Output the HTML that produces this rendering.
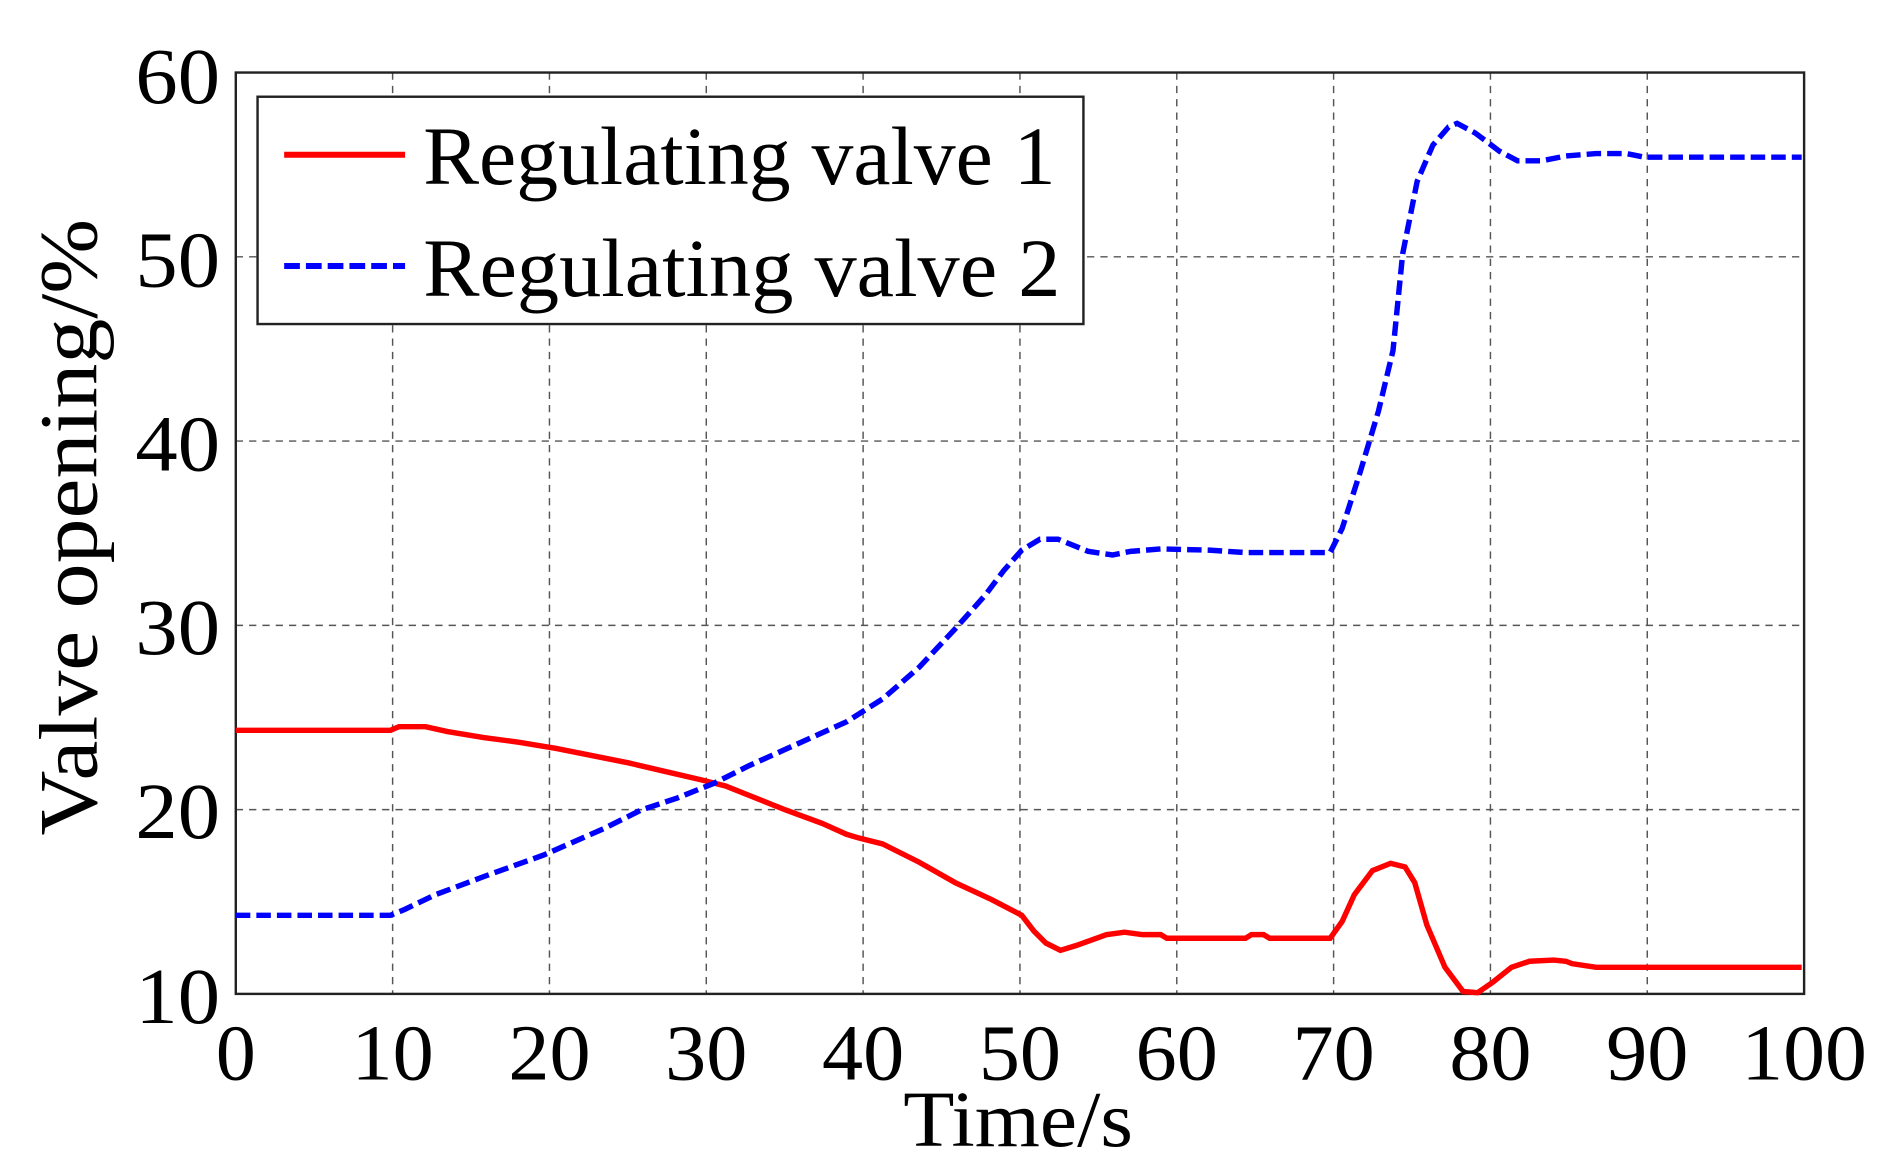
<!DOCTYPE html>
<html><head><meta charset="utf-8"><style>html,body{margin:0;padding:0;background:#fff}svg{display:block}</style></head>
<body>
<svg width="1896" height="1172" viewBox="0 0 1568 969.3" preserveAspectRatio="none" xmlns="http://www.w3.org/2000/svg" font-family="'Liberation Serif', serif">
<rect width="1568" height="970" fill="#fff"/>
<g stroke="#555" stroke-width="1.2" stroke-dasharray="6,5">
<line x1="324.7" y1="60" x2="324.7" y2="822"/><line x1="454.4" y1="60" x2="454.4" y2="822"/><line x1="584.1" y1="60" x2="584.1" y2="822"/><line x1="713.8" y1="60" x2="713.8" y2="822"/><line x1="843.5" y1="60" x2="843.5" y2="822"/><line x1="973.2" y1="60" x2="973.2" y2="822"/><line x1="1102.9" y1="60" x2="1102.9" y2="822"/><line x1="1232.6" y1="60" x2="1232.6" y2="822"/><line x1="1362.3" y1="60" x2="1362.3" y2="822"/>
<line x1="195" y1="212.4" x2="1492" y2="212.4"/><line x1="195" y1="364.8" x2="1492" y2="364.8"/><line x1="195" y1="517.2" x2="1492" y2="517.2"/><line x1="195" y1="669.6" x2="1492" y2="669.6"/>
</g>
<rect x="195" y="60" width="1297" height="762" fill="none" stroke="#222" stroke-width="2"/>
<polyline fill="none" stroke="#ff0000" stroke-width="4.5" points="195,604 323,604 330,601 352,601 370,605 400,610 430,614 460,619 490,625 520,631 550,638 580,645 600,650 620,658 650,670 680,681 700,690 710,693 730,698 760,713 790,730 820,744 845,757 855,770 865,780 877,786 890,782 915,773 930,771 945,773 960,773 965,776 1030,776 1035,773 1045,773 1050,776 1100,776 1110,762 1120,740 1135,720 1150,714 1162,717 1170,730 1180,765 1195,800 1210,820 1222,821 1235,812 1250,800 1265,795 1285,794 1295,795 1300,797 1320,800 1490,800"/>
<polyline fill="none" stroke="#0000ff" stroke-width="4.5" stroke-dasharray="12,5" points="195,757 323,757 335,752 360,740 400,725 450,707 500,685 530,670 560,660 590,648 620,633 660,615 700,597 730,578 760,552 790,520 815,492 830,472 845,455 860,446 875,446 890,452 900,456 920,459 935,456 960,454 1000,455 1030,457 1100,457 1110,437 1125,390 1140,340 1152,290 1160,210 1172,150 1185,120 1198,105 1205,102 1220,110 1240,125 1255,133 1275,133 1295,129 1320,127 1345,127 1360,130 1490,130"/>
<rect x="213" y="80" width="683" height="188" fill="#fff" stroke="#222" stroke-width="2"/>
<line x1="235" y1="128" x2="335" y2="128" stroke="#ff0000" stroke-width="5"/>
<line x1="235" y1="220" x2="335" y2="220" stroke="#0000ff" stroke-width="5" stroke-dasharray="13,5"/>
<text x="350" y="152" font-size="68" textLength="523" lengthAdjust="spacingAndGlyphs">Regulating valve 1</text>
<text x="350" y="245" font-size="68" textLength="527" lengthAdjust="spacingAndGlyphs">Regulating valve 2</text>
<g font-size="66" text-anchor="end">
<text x="182" y="85" textLength="70" lengthAdjust="spacingAndGlyphs">60</text>
<text x="182" y="237" textLength="70" lengthAdjust="spacingAndGlyphs">50</text>
<text x="182" y="389" textLength="70" lengthAdjust="spacingAndGlyphs">40</text>
<text x="182" y="541" textLength="70" lengthAdjust="spacingAndGlyphs">30</text>
<text x="182" y="693" textLength="70" lengthAdjust="spacingAndGlyphs">20</text>
<text x="182" y="846" textLength="70" lengthAdjust="spacingAndGlyphs">10</text>
</g>
<g font-size="66" text-anchor="middle">
<text x="195" y="893">0</text>
<text x="324.7" y="893" textLength="68" lengthAdjust="spacingAndGlyphs">10</text>
<text x="454.4" y="893" textLength="68" lengthAdjust="spacingAndGlyphs">20</text>
<text x="584.1" y="893" textLength="68" lengthAdjust="spacingAndGlyphs">30</text>
<text x="713.8" y="893" textLength="68" lengthAdjust="spacingAndGlyphs">40</text>
<text x="843.5" y="893" textLength="68" lengthAdjust="spacingAndGlyphs">50</text>
<text x="973.2" y="893" textLength="68" lengthAdjust="spacingAndGlyphs">60</text>
<text x="1102.9" y="893" textLength="68" lengthAdjust="spacingAndGlyphs">70</text>
<text x="1232.6" y="893" textLength="68" lengthAdjust="spacingAndGlyphs">80</text>
<text x="1362.3" y="893" textLength="68" lengthAdjust="spacingAndGlyphs">90</text>
<text x="1492" y="893" textLength="104" lengthAdjust="spacingAndGlyphs">100</text>
</g>
<text x="842" y="948" font-size="66" text-anchor="middle" textLength="190" lengthAdjust="spacingAndGlyphs">Time/s</text>
<text transform="translate(80,436) rotate(-90)" font-size="68" text-anchor="middle" textLength="510" lengthAdjust="spacingAndGlyphs">Valve opening/%</text>
</svg>
</body></html>
